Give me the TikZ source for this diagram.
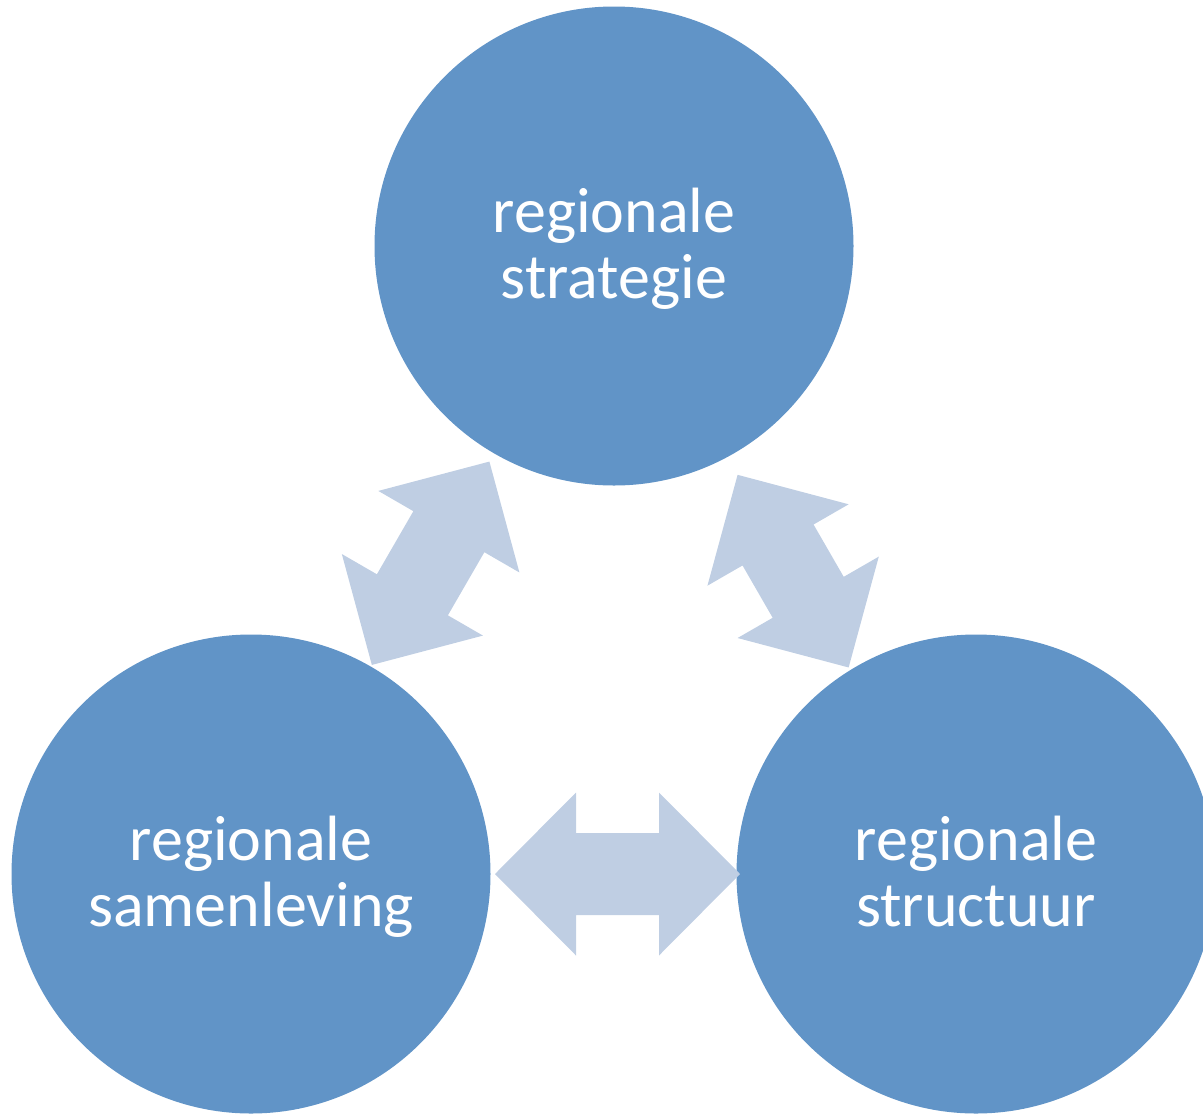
\documentclass[tikz,border=0pt]{standalone}
\usepackage{fontspec}
\setmainfont{Carlito}
\usetikzlibrary{calc}
\definecolor{bubblefill}{HTML}{6194C7}
\definecolor{arrowfill}{HTML}{BFCEE3}
% block double arrow between two tips
\newcommand\dblarrow[2]{%
	\coordinate (#1-a) at ($(#1)!81pt!(#2)$);
	\coordinate (#1-b) at ($(#2)!81pt!(#1)$);
	\fill[arrowfill] (#1) -- ($(#1-a)!81.5pt!90:(#2)$) -- ($(#1-a)!41pt!90:(#2)$)
		-- ($(#1-b)!41pt!-90:(#1)$) -- ($(#1-b)!81.5pt!-90:(#1)$) -- (#2)
		-- ($(#1-b)!81.5pt!90:(#1)$) -- ($(#1-b)!41pt!90:(#1)$)
		-- ($(#1-a)!41pt!-90:(#2)$) -- ($(#1-a)!81.5pt!-90:(#2)$) -- cycle;}
\begin{document}
\begin{tikzpicture}[x=1pt, y=1pt,
		bubble/.style={circle, fill=bubblefill, draw=none, inner sep=0pt, minimum size=479pt,
			text=white, align=center, font=\fontsize{64}{66}\selectfont}]
	\def\topline{\rule{0pt}{52pt}}\def\botline{\rule[-13pt]{0pt}{13pt}}
	\useasboundingbox (0,0) rectangle (1203,-1117);
	\clip (0,0) rectangle (1203,-1117);
	
	\node[bubble] (strat) at (614,-246) {\topline regionale\\strategie\botline};
	\node[bubble] (samen) at (251,-874) {\topline regionale\\samenleving\botline};
	\node[bubble] (struct) at (976,-874) {\topline regionale\\structuur\botline};
	
	\coordinate (ls) at ($(strat)!249pt!(samen)$);
	\coordinate (lb) at ($(samen)!241.5pt!(strat)$);
	\coordinate (rs) at ($(strat)!259.5pt!(struct) + (-6,-4)$);
	\coordinate (rb) at ($(struct)!243pt!(strat) + (-6,-4)$);
	\coordinate (hl) at ($(samen)!244pt!(struct)$);
	\coordinate (hr) at ($(struct)!236pt!(samen)$);
	
	\dblarrow{ls}{lb}
	\dblarrow{rs}{rb}
	\dblarrow{hl}{hr}
\end{tikzpicture}
\end{document}
